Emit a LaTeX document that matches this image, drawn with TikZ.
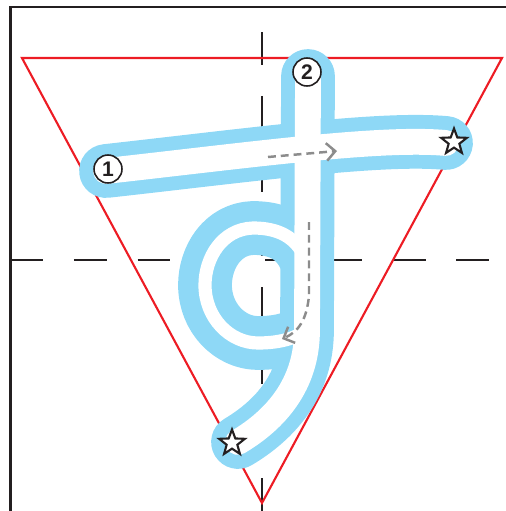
\documentclass[tikz,border=0pt]{standalone}
\usepackage{fontspec}
\setsansfont{Liberation Sans}
\usetikzlibrary{arrows.meta,positioning,shapes.geometric}
\definecolor{ink}{HTML}{231F20}
\definecolor{guidered}{HTML}{ED1C24}
\definecolor{penblue}{HTML}{8ED8F6}
\definecolor{hintgray}{HTML}{8C8C8C}
\tikzset{
  boxline/.style={draw=ink, line width=1.3pt},
  guideline/.style={draw=ink, line width=1.1pt, dash pattern=on 18.7pt off 17.6pt},
  redtri/.style={draw=guidered, line width=1.2pt, line join=miter},
  inkblue/.style={draw=penblue, line width=30.6pt, line cap=round, line join=round},
  inkwhite/.style={draw=white, line width=14.7pt, line cap=round, line join=round},
  loopwhite/.style={inkwhite, line width=7.5pt},
  hintarrow/.style={draw=hintgray, line width=1.4pt, dash pattern=on 4.5pt off 2.8pt, -{Straight Barb[length=5pt,width=10pt,line width=1.4pt]}},
  numcirc/.style={circle, draw=ink, line width=0.9pt, fill=white, inner sep=0pt, minimum size=0.56cm, font=\sffamily\bfseries\fontsize{12}{12}\selectfont, text=ink},
  endstar/.style={star, star points=5, star point ratio=2.4, draw=ink, line width=1.2pt, fill=white, inner sep=0pt, minimum size=0.54cm},
}

\begin{document}
\begin{tikzpicture}[x=0.02cm, y=-0.02cm]
\useasboundingbox (0,0) rectangle (506,511);
% frame and guides
\draw[boxline] (10.5,511) -- (10.5,7) -- (506,7);
\draw[guideline] (262,32) -- (262,512);
\draw[guideline] (10,260) -- (491,260);
\coordinate (tl) at (22,58);
\coordinate (tr) at (502,58);
\coordinate (tb) at (262,503);
\draw[redtri] (tl) -- (tr) -- (tb) -- cycle;
% stroke outlines
\draw[inkblue] (106,171) .. controls (250,155) and (380,137) .. (446,143);
\draw[inkblue] (308,76) -- (307,330) .. controls (307,385) and (275,420) .. (238,442);
\draw[inkblue] (307,262) .. controls (297,236) and (277,228) .. (253,228) .. controls (222,229) and (205,258) .. (205,285) .. controls (205,318) and (230,343) .. (258,343) .. controls (282,343) and (300,337) .. (307,328);
% stroke paper
\draw[inkwhite] (106,171) .. controls (250,155) and (380,137) .. (446,143);
\draw[inkwhite] (308,76) -- (307,330) .. controls (307,385) and (275,420) .. (238,442);
\draw[loopwhite] (307,262) .. controls (297,236) and (277,228) .. (253,228) .. controls (222,229) and (205,258) .. (205,285) .. controls (205,318) and (230,343) .. (258,343) .. controls (282,343) and (300,337) .. (307,328);
% direction hints
\coordinate (h1a) at (268,157);
\coordinate (h1b) at (337,151);
\draw[hintarrow] (h1a) -- (h1b);
\coordinate (h2a) at (309,222);
\coordinate (h2b) at (282,339);
\draw[hintarrow] (h2a) -- (309,295) .. controls (307,320) and (298,332) .. (h2b);
% numbers and stars
\node[numcirc] (n1) at (108,169) {1};
\node[numcirc] (n2) at (307,72) {2};
\node[endstar] (s1) at (454,142) {};
\node[endstar] (s2) at (232,443) {};
\end{tikzpicture}
\end{document}
